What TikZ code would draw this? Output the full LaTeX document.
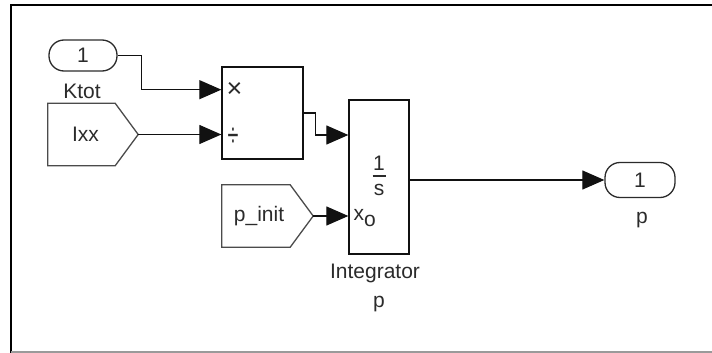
\documentclass[tikz,border=0pt]{standalone}
\usepackage{fontspec}
\setmainfont{Liberation Sans}
\usetikzlibrary{arrows.meta,calc}
\definecolor{ink}{HTML}{2B2B2B}
\definecolor{wire}{HTML}{111111}
\definecolor{rim}{HTML}{9A9A9A}
\tikzset{
  blk/.style  = {rectangle, draw=wire, line width=1.3pt, fill=white, inner sep=0pt},
  port/.style = {rectangle, rounded corners=15pt, draw=ink, line width=1.3pt, inner sep=0pt,
                 font=\fontsize{21}{24}\selectfont, text=ink},
  from/.style = {rectangle, inner sep=0pt, minimum height=62pt, font=\fontsize{21}{24}\selectfont, text=ink},
  fromrim/.style = {draw=ink!85, line width=1.3pt, line join=miter},
  sig/.style  = {-{Triangle[length=22pt,width=19pt]}, line width=1.2pt, draw=wire},
  lbl/.style  = {font=\fontsize{21}{24}\selectfont, text=ink, inner sep=0pt},
}
\begin{document}
\begin{tikzpicture}[x=1pt,y=-1pt]
\useasboundingbox (0,0) rectangle (712,353);
% frame
\draw[line width=2pt] (11,353) -- (11,5) -- (712,5);
\draw[rim, line width=1.2pt] (11,352) -- (712,352);
% sources
\node[port, minimum width=68pt, minimum height=31pt] (ktot) at (83,55.5) {1};
\node[lbl] (ktotlbl) at (82,91) {Ktot};
\node[from, minimum width=67pt] (ixx) at (81.5,134.5) {\hspace*{8pt}Ixx};
\coordinate (ixxtip) at ($(ixx.east)+(23,0)$);
\draw[fromrim] (ixx.north east) -- (ixx.north west) -- (ixx.south west) -- (ixx.south east) -- (ixxtip) -- cycle;
\node[from, minimum width=68pt] (pinit) at (256,216) {\hspace*{6pt}p\_init};
\coordinate (pinittip) at ($(pinit.east)+(23,0)$);
\draw[fromrim] (pinit.north east) -- (pinit.north west) -- (pinit.south west) -- (pinit.south east) -- (pinittip) -- cycle;
% product
\node[blk, minimum width=81pt, minimum height=92pt] (prod) at (262.5,113) {};
\coordinate (prodin1) at ($(prod.north west)!0.25!(prod.south west)$);
\coordinate (prodin2) at ($(prod.north west)!0.75!(prod.south west)$);
\node[lbl, font=\fontsize{27}{28}\selectfont, anchor=west] (mul) at ($(prodin1)+(5,0)$) {×};
\node[lbl, font=\fontsize{22}{24}\selectfont, anchor=west] (dvd) at ($(prodin2)+(6,1)$) {\scalebox{0.9}[1.5]{÷}};
% integrator
\node[blk, minimum width=60pt, minimum height=154pt] (integ) at (379,177) {};
\coordinate (integin1) at (integ.west |- 0,135);
\coordinate (integin2) at (integ.west |- pinittip);
\node[lbl] (num) at (379,163) {1};
\node[lbl] (bar) at (379,176) {\rule{13pt}{1.4pt}};
\node[lbl] (den) at (379,190) {s};
\node[lbl, anchor=west] (xo) at ($(integin2)+(5,2)$) {x\raisebox{-6pt}{o}};
\node[lbl] (integlbl) at (375,273) {Integrator};
\node[lbl] (integlbl2) at (379,304) {p};
% sink
\node[port, minimum width=70pt, minimum height=35pt] (pout) at (640,180) {1};
\node[lbl] (poutlbl) at (642,220) {p};
% wires
\draw[sig] (ktot.east) -- ++(24,0) |- (prodin1);
\draw[sig] (ixxtip) -- (ixxtip -| prodin2);
\draw[sig] (prod.east) -- ++(12,0) |- (integin1);
\draw[sig] (pinittip) -- (integin2);
\draw[sig] (integ.east |- pout) -- (pout.west);
\end{tikzpicture}
\end{document}
